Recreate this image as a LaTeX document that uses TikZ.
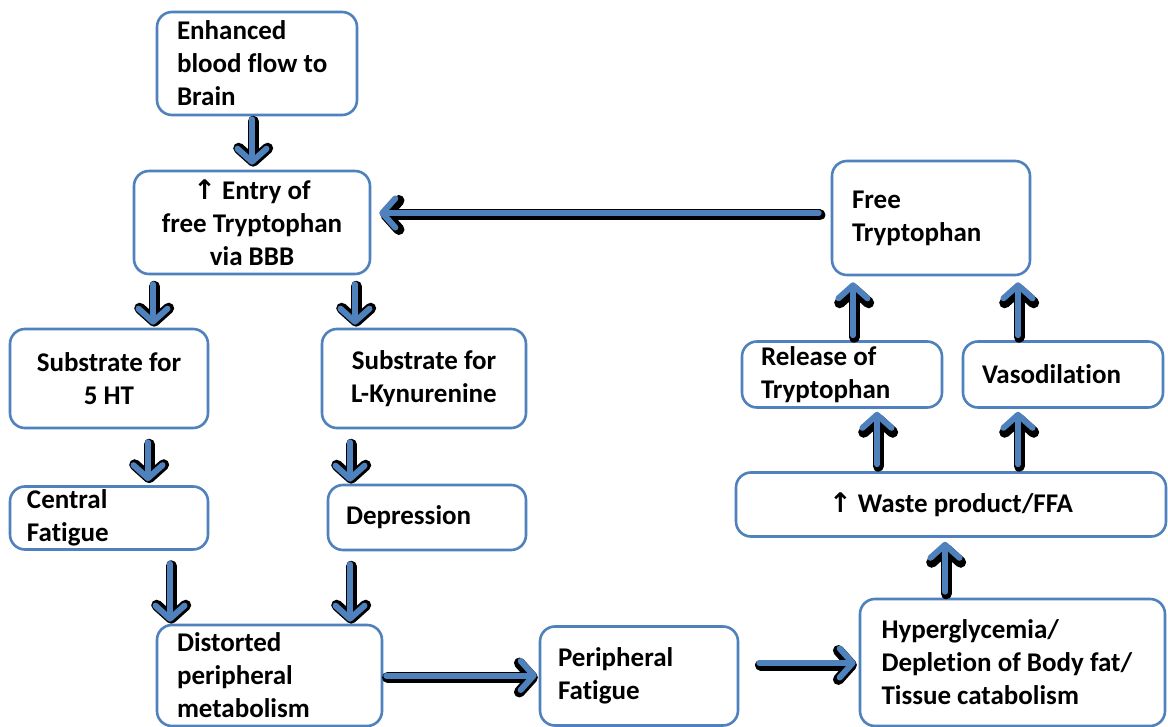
\documentclass[tikz,border=0pt]{standalone}
\usepackage{fontspec}
\setmainfont{Carlito}[Ligatures=NoCommon]
\newfontfamily\arrfont{DejaVu Sans}
\usetikzlibrary{arrows.meta}
\definecolor{obl}{HTML}{4F81BD}
\newcommand\fatarr[3][]{\draw[arrshadow,#1] #2 -- #3; \draw[arrblue,#1] #2 -- #3;}
\newcommand\boxfont{\bfseries\fontsize{27}{33}\selectfont}
\tikzset{
  box/.style={draw=obl, line width=2.6pt, rounded corners=15pt, fill=white,
    font=\boxfont, text=black, inner ysep=0pt,
    execute at begin node={\spaceskip=0.226em\relax\xspaceskip=0.226em\relax}},
  lbox/.style={box, align=left},
  cbox/.style={box, align=center},
  arrblue/.style={draw=obl, line width=6pt, line cap=round, line join=round,
    -{Straight Barb[length=13pt,width=29pt,line width=6pt,round]}},
  arrshadow/.style={draw=black, line width=11pt, line cap=round, line join=round,
    -{Straight Barb[length=13pt,width=29pt,line width=11pt,round]}, transform canvas={shift={(1.2pt,-2pt)}}},
}
\newcommand\uarr{{\arrfont\char"2191}}
\begin{document}
\begin{tikzpicture}[x=1pt,y=-1pt]
\useasboundingbox (0,0) rectangle (1168,727);
\fill[white] (0,0) rectangle (1168,727);
% nodes
\node[lbox, minimum width=200, minimum height=103, inner xsep=20, text width=160] (enh) at (257,63.5) {Enhanced\\blood flow to\\Brain};
\node[cbox, minimum width=236, minimum height=103, inner xsep=4, text width=228] (entry) at (252,222.5) {\uarr\ Entry of\\free Tryptophan\\via BBB};
\node[cbox, minimum width=198, minimum height=99, inner xsep=4, text width=190] (s5) at (109,378.5) {Substrate for\\5 HT};
\node[cbox, minimum width=204, minimum height=99, inner xsep=4, text width=196] (kyn) at (424,378.5) {Substrate for\\L-Kynurenine};
\node[lbox, minimum width=198, minimum height=63, inner xsep=17, text width=164] (cf) at (109,518) {Central\\Fatigue};
\node[lbox, minimum width=198, minimum height=65, inner xsep=18, text width=162] (dep) at (427,517.5) {Depression};
\node[lbox, minimum width=225, minimum height=101, inner xsep=20, text width=185] (dist) at (269.5,675.5) {Distorted\\peripheral\\metabolism};
\node[lbox, minimum width=198, minimum height=99, inner xsep=18, text width=162] (pf) at (639,676) {Peripheral\\Fatigue};
\node[lbox, minimum width=305, minimum height=127, inner xsep=21, text width=262] (hyp) at (1012.5,662.5) {Hyperglycemia/\\Depletion of Body fat/\\Tissue catabolism};
\node[cbox, minimum width=430, minimum height=64, inner xsep=8, text width=414] (waste) at (951,504.5) {\uarr\ Waste product/FFA};
\node[lbox, minimum width=200, minimum height=66, inner xsep=19, text width=162] (rel) at (842,374.5) {Release of\\Tryptophan};
\node[lbox, minimum width=200, minimum height=66, inner xsep=19, text width=162] (vaso) at (1063,374.5) {Vasodilation};
\node[lbox, minimum width=198, minimum height=114, inner xsep=20, text width=158] (free) at (931,218) {Free\\Tryptophan};
% arrows
\fatarr[shorten <=3pt, shorten >=5pt]{([xshift=-5pt]enh.south)}{(entry.north)}
\fatarr[shorten <=9pt, shorten >=3pt]{([xshift=-99pt]entry.south)}{([xshift=44pt]s5.north)}
\fatarr[shorten <=9pt, shorten >=3pt]{([xshift=103pt]entry.south)}{([xshift=-69pt]kyn.north)}
\fatarr[shorten <=13pt, shorten >=4pt]{([xshift=39pt]s5.south)}{([xshift=39pt]cf.north)}
\fatarr[shorten <=13pt, shorten >=2pt]{([xshift=-74pt]kyn.south)}{([xshift=-77pt]dep.north)}
\fatarr[shorten <=13pt, shorten >=2pt]{([xshift=61pt]cf.south)}{([xshift=-99.5pt]dist.north)}
\fatarr[shorten <=13pt, shorten >=2pt]{([xshift=-77pt]dep.south)}{([xshift=80.5pt]dist.north)}
\fatarr[shorten <=3pt, shorten >=2pt]{(dist.east)}{([yshift=0.5pt]pf.west)}
\fatarr[shorten <=20pt, shorten >=3pt]{([yshift=13pt]pf.east)}{([yshift=-0.5pt]hyp.west)}
\fatarr[shorten <=6pt, shorten >=4pt]{([xshift=-67.5pt]hyp.north)}{([xshift=-6pt]waste.south)}
\fatarr[shorten <=7pt, shorten >=3pt]{([xshift=-74pt]waste.north)}{([xshift=35pt]rel.south)}
\fatarr[shorten <=7pt, shorten >=3pt]{([xshift=67pt]waste.north)}{([xshift=-45pt]vaso.south)}
\fatarr[shorten <=5pt, shorten >=6pt]{([xshift=11pt]rel.north)}{([xshift=-78pt]free.south)}
\fatarr[shorten <=5pt, shorten >=6pt]{([xshift=-45pt]vaso.north)}{([xshift=87pt]free.south)}
\fatarr[shorten <=12pt, shorten >=8pt]{([yshift=5pt]free.west)}{([yshift=9.5pt]entry.east)}
\end{tikzpicture}
\end{document}
